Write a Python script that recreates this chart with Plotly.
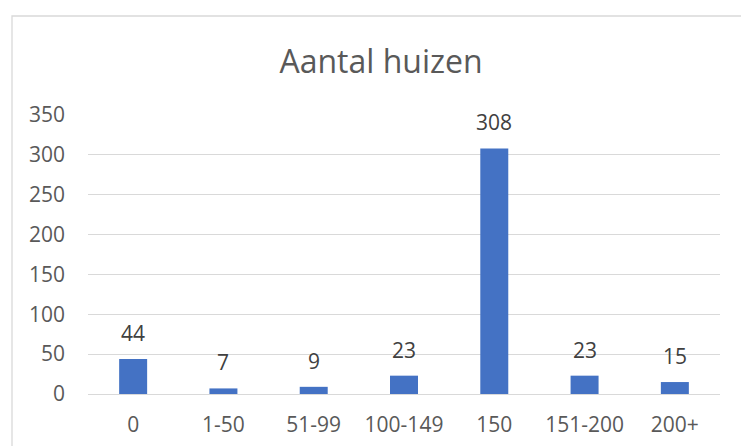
import plotly.graph_objects as go

categories = ["0", "1-50", "51-99", "100-149", "150", "151-200", "200+"]
values = [44, 7, 9, 23, 308, 23, 15]
y_ticks = [0, 50, 100, 150, 200, 250, 300, 350]

W, H = 741, 446
ml, mr, mt, mb = 88, 21, 115, 52
pw = W - ml - mr
ph = H - mt - mb
FONT = "Open Sans, Liberation Sans"

fig = go.Figure()
fig.add_trace(go.Bar(
    x=list(range(len(categories))), y=values,
    marker=dict(color="#4472c4", line=dict(width=0)),
    width=0.31,
    hoverinfo="skip",
))

for i, v in enumerate(values):
    fig.add_annotation(x=i, y=v, text=str(v), showarrow=False,
                       yanchor="middle", yshift=26,
                       font=dict(family=FONT, size=21, color="#404040"))

# chart frame
fig.add_shape(type="rect", xref="paper", yref="paper",
              x0=(12 - ml) / pw, x1=(760 - ml) / pw,
              y0=-(470 - (H - mb)) / ph, y1=((H - mb) - 16) / ph,
              line=dict(color="#d9d9d9", width=1.3), fillcolor="rgba(0,0,0,0)", layer="below")

fig.update_layout(
    width=W, height=H,
    margin=dict(l=ml, r=mr, t=mt, b=mb, autoexpand=False),
    paper_bgcolor="white", plot_bgcolor="white",
    showlegend=False,
    title=dict(text="Aantal huizen", x=381 / W, xanchor="center", y=1 - 62 / H, yanchor="middle",
               font=dict(family=FONT, size=32, color="#595959")),
    xaxis=dict(range=[-0.5, len(categories) - 0.5], tickvals=list(range(len(categories))),
               ticktext=categories, showgrid=False, showline=False, ticks="", zeroline=False,
               tickfont=dict(family=FONT, size=21, color="#595959"),
               ticklabelstandoff=16, tickangle=0, automargin=False),
    yaxis=dict(range=[0, 350], tickvals=y_ticks, showgrid=True, gridcolor="#d9d9d9", gridwidth=1.3,
               zeroline=True, zerolinecolor="#d9d9d9", zerolinewidth=1.3, showline=False, ticks="",
               tickfont=dict(family=FONT, size=21, color="#595959"),
               ticklabelstandoff=22, automargin=False),
    bargap=0.69,
)

fig.write_html("out.html", config={"displayModeBar": False},
               post_script="document.body.style.margin='0';document.body.style.overflow='hidden';")
